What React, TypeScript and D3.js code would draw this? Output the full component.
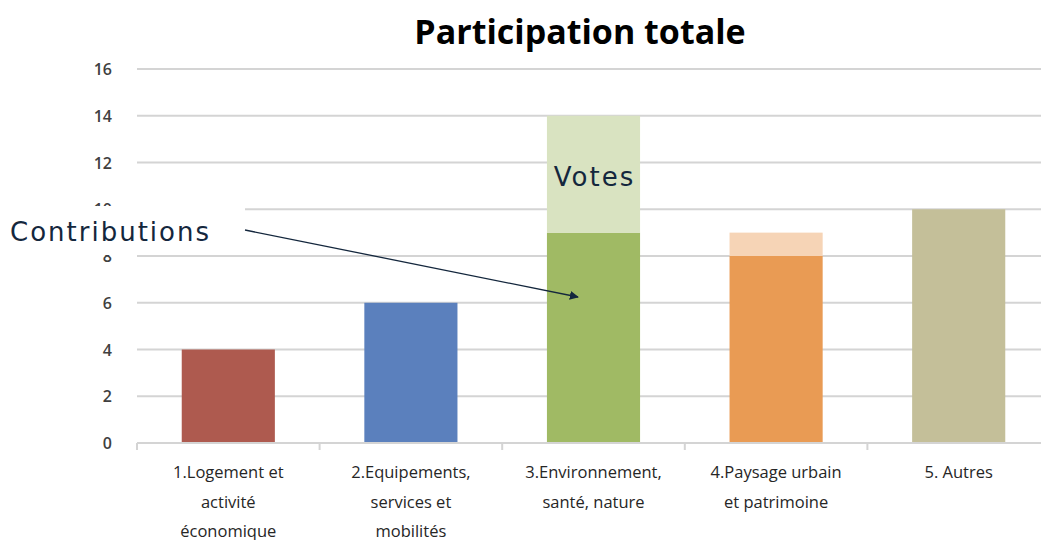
import React from "react";
import * as d3 from "d3";

const width = 1041;
const height = 540;
const margin = { top: 69, right: -9, bottom: 97, left: 137 };

const categories = [
  ["1.Logement et", "activité", "économique"],
  ["2.Equipements,", "services et", "mobilités"],
  ["3.Environnement,", "santé, nature"],
  ["4.Paysage urbain", "et patrimoine"],
  ["5. Autres"],
];
const contributions = [4, 6, 9, 8, 10];
const votes = [0, 0, 5, 1, 0];
const yTicks = [0, 2, 4, 6, 8, 10, 12, 14, 16];

const darkColors = ["#ae5a4f", "#5b80bd", "#a0ba64", "#e99b54", "#c4bf99"];
const lightColors = ["#e6c4c0", "#c4d2ea", "#d9e3c1", "#f6d4b6", "#e7e4d3"];

const App = () => {
  const xScale = d3
    .scaleBand()
    .domain(categories.map((d, i) => String(i)))
    .range([margin.left, width - margin.right])
    .paddingInner(0.49)
    .paddingOuter(0.245);
  const yScale = d3
    .scaleLinear()
    .domain([0, 16])
    .range([height - margin.bottom, margin.top]);

  const step = xScale.step();
  const base = yScale(0);

  return (
    <svg width={width} height={height} style={{ position: "absolute", left: 0, top: 0 }}>
      <rect width={width} height={height} fill="#fff" />
      <text
        x={580}
        y={44}
        textAnchor="middle"
        fontFamily="Open Sans"
        fontWeight="bold"
        fontSize={34}
        fill="#000"
      >
        Participation totale
      </text>

      {/* gridlines */}
      {yTicks.map((t) => (
        <g key={t}>
          {t > 0 && (
            <line
              x1={margin.left}
              x2={width}
              y1={yScale(t)}
              y2={yScale(t)}
              stroke="#d4d4d4"
              strokeWidth={2}
            />
          )}
          <text
            x={112}
            y={yScale(t) + 6}
            textAnchor="end"
            fontFamily="Open Sans"
            fontWeight="600"
            fontSize={16}
            fill="#404040"
          >
            {t}
          </text>
        </g>
      ))}

      {/* bars */}
      {categories.map((c, i) => {
        const x = xScale(String(i));
        const c1 = contributions[i];
        const v = votes[i];
        return (
          <g key={i}>
            <rect
              x={x}
              y={yScale(c1)}
              width={xScale.bandwidth()}
              height={base - yScale(c1)}
              fill={darkColors[i]}
            />
            {v > 0 && (
              <rect
                x={x}
                y={yScale(c1 + v)}
                width={xScale.bandwidth()}
                height={yScale(c1) - yScale(c1 + v)}
                fill={lightColors[i]}
              />
            )}
          </g>
        );
      })}

      {/* x axis */}
      <line x1={margin.left} x2={width} y1={base} y2={base} stroke="#d4d4d4" strokeWidth={2} />
      {categories.map((c, i) => {
        const x0 = margin.left + i * step;
        return (
          <line key={i} x1={x0} x2={x0} y1={base} y2={base + 7} stroke="#d4d4d4" strokeWidth={2} />
        );
      })}
      {categories.map((c, i) => {
        const cx = xScale(String(i)) + xScale.bandwidth() / 2;
        return (
          <text
            key={i}
            textAnchor="middle"
            fontFamily="Open Sans"
            fontSize={16.5}
            fill="#262626"
          >
            {c.map((line, j) => (
              <tspan key={j} x={cx} y={478 + j * 29.5}>
                {line}
              </tspan>
            ))}
          </text>
        );
      })}

      {/* annotations */}
      <defs>
        <marker
          id="arrow"
          viewBox="0 0 10 10"
          refX="9"
          refY="5"
          markerWidth="7"
          markerHeight="7"
          orient="auto"
        >
          <path d="M0,0 L10,5 L0,10 z" fill="#14273d" />
        </marker>
      </defs>
      <rect x={0} y={206} width={245} height={49} fill="#fff" />
      <text
        x={10}
        y={241}
        fontFamily="DejaVu Sans"
        fontSize={26}
        letterSpacing={2}
        fill="#14273d"
      >
        Contributions
      </text>
      <line
        x1={245}
        y1={230}
        x2={578}
        y2={297}
        stroke="#14273d"
        strokeWidth={1.3}
        markerEnd="url(#arrow)"
      />
      <text
        x={xScale("2") + xScale.bandwidth() / 2 + 1}
        y={186}
        textAnchor="middle"
        fontFamily="DejaVu Sans"
        fontSize={26}
        letterSpacing={2}
        fill="#14273d"
      >
        Votes
      </text>
    </svg>
  );
};

export default App;
